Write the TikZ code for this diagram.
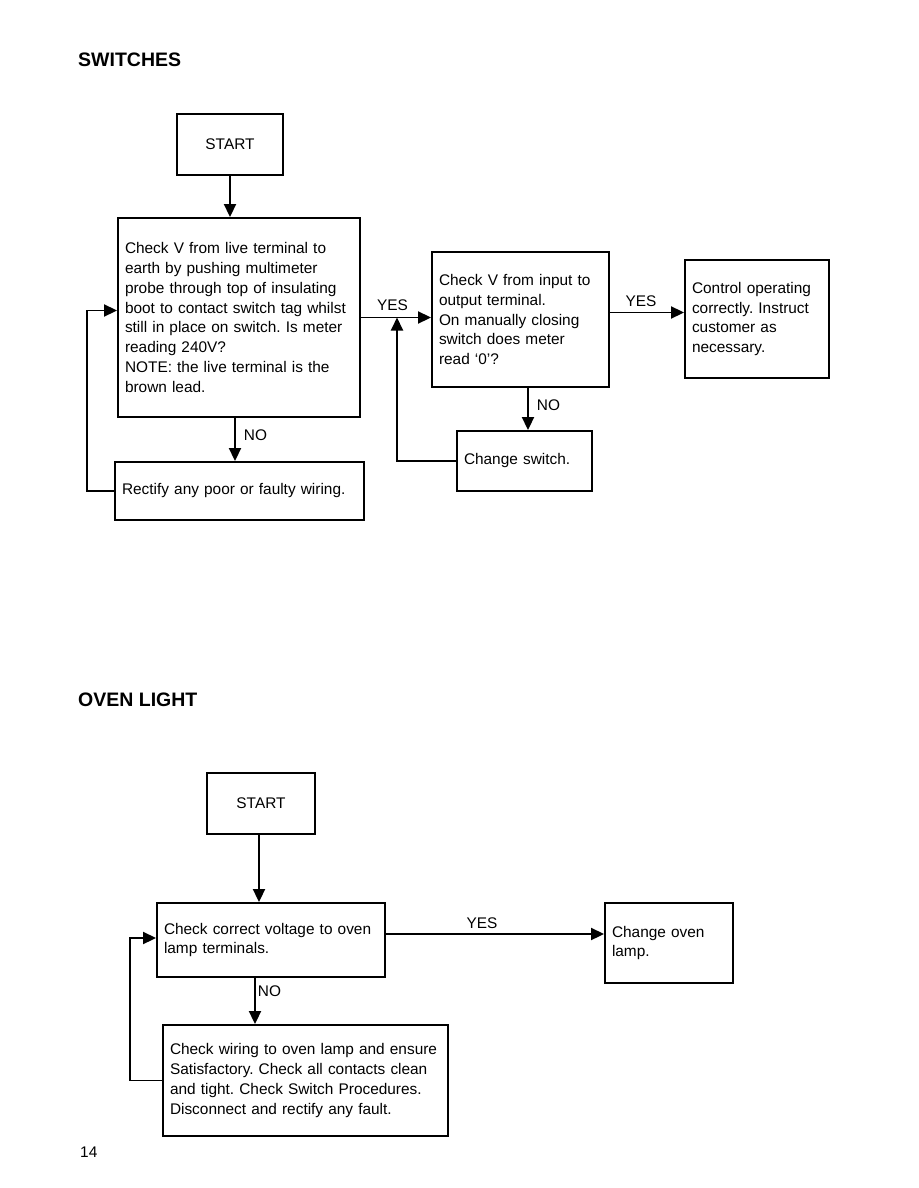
\documentclass[tikz,border=0pt]{standalone}
\usepackage{fontspec}
\setmainfont{Liberation Sans}
\usetikzlibrary{arrows.meta, positioning}
\frenchspacing
\tikzset{
  stepbox/.style = {draw=black, line width=1.9pt, fill=white},
  flowline/.style = {draw=black, line width=1.9pt},
}

\begin{document}
\begin{tikzpicture}[
            x=1pt, y=-1pt,
            >={Triangle[length=13pt, width=12pt]},
            every node/.style={font=\fontsize{15.4}{19.8}\selectfont},
            box/.style     ={stepbox, align=left, inner xsep=7pt, inner ysep=0pt},
            startbox/.style={stepbox, inner sep=0pt},
            flow/.style    ={->, flowline},
            lbl/.style     ={inner sep=1pt},
            heading/.style ={font=\fontsize{19.5}{22}\selectfont\bfseries,
                    anchor=west, inner sep=0pt},
        ]
        \useasboundingbox[fill=white] (0,0) rectangle (918,1188);

        %% --- Switches -------------------------------------------------------
        \node[heading] (swhead) at (78,60) {SWITCHES};

        \node[startbox, minimum width=106pt, minimum height=61pt] (startA) at (230,144.5) {START};
        \node[box, text width=228pt, minimum height=199pt] (chkA) at (239,317.5) {%
            Check V from live terminal to\\
            earth by pushing multimeter\\
            probe through top of insulating\\
            boot to contact switch tag whilst\\
            still in place on switch. Is meter\\
            reading 240V?\\
            NOTE: the live terminal is the\\
            brown lead.};
        \node[box, text width=235pt, minimum height=58pt] (fixA) at (239.5,491)
        {Rectify any poor or faulty wiring.};
        \node[box, text width=163pt, minimum height=135pt] (chkB) at (520.5,319.5) {%
            Check V from input to\\
            output terminal.\\
            On manually closing\\
            switch does meter\\
            read `0'?};
        \node[box, text width=130pt, minimum height=118pt] (okA) at (757,319) {%
            Control operating\\
            correctly. Instruct\\
            customer as\\
            necessary.};
        \node[box, text width=121pt, minimum height=60pt] (swA) at (524.5,461)
        {Change switch.};
        \coordinate (joinA) at (397,317.5);

        \draw[flow] (startA.south) -- (startA.south |- chkA.north);
        \draw[flow] ([xshift=-4pt]chkA.south) --
        node[lbl, pos=0.4, right=7pt]{NO} ([xshift=-4pt]chkA.south |- fixA.north);
        % failed check loops back into the first test
        \draw[flow] (fixA.west) -- ++(-27,0) |- ([yshift=7pt]chkA.west);
        \draw[flow] (chkA.east) --
        node[lbl, pos=0.45, above=5pt]{YES} (chkA.east -| chkB.west);
        \draw[flow] (swA.west) -| (joinA);
        \draw[flow] ([yshift=7pt]chkB.east) --
        node[lbl, pos=0.42, above=4pt]{YES} ([yshift=7pt]chkB.east -| okA.west);
        \draw[flow] ([xshift=7.5pt]chkB.south) --
        node[lbl, pos=0.4, right=7pt]{NO} ([xshift=7.5pt]chkB.south |- swA.north);

        %% --- Oven light -----------------------------------------------------
        \node[heading] (ovhead) at (78,700) {OVEN LIGHT};

        \node[startbox, minimum width=108pt, minimum height=61pt] (startB) at (261,803.5) {START};
        \node[box, text width=214pt, minimum height=74pt] (lampA) at (271,940) {%
            Check correct voltage to oven\\
            lamp terminals.};
        \node[box, text width=114pt, minimum height=80pt] (lampB) at (669,943) {%
            Change oven\\
            lamp.};
        \node[box, text width=271pt, minimum height=111pt] (wireA) at (305.5,1080.5) {%
            Check wiring to oven lamp and ensure\\
            Satisfactory. Check all contacts clean\\
            and tight. Check Switch Procedures.\\
            Disconnect and rectify any fault.};

        \draw[flow] ([xshift=-2pt]startB.south) -- ([xshift=-2pt]startB.south |- lampA.north);
        \draw[flow] ([yshift=6pt]lampA.east) --
        node[lbl, pos=0.44, above=3pt]{YES} ([yshift=6pt]lampA.east -| lampB.west);
        \draw[flow] ([xshift=-16pt]lampA.south) --
        node[lbl, pos=0.29, right=1pt]{NO} ([xshift=-16pt]lampA.south |- wireA.north);
        \draw[flow] (wireA.west) -- ++(-32,0) |- ([yshift=2pt]lampA.west);

        \node[anchor=west, inner sep=0pt] (pageno) at (80,1152) {14};

    \end{tikzpicture}
\end{document}
